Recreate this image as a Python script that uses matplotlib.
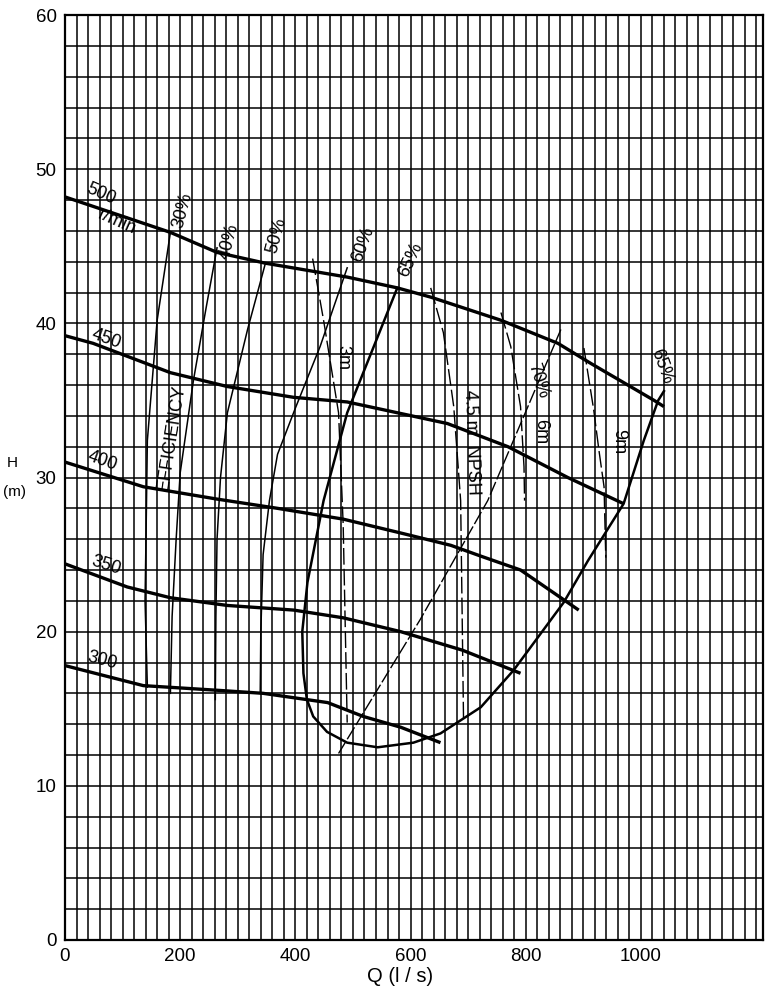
import matplotlib
matplotlib.use("Agg")
import matplotlib.pyplot as plt
import numpy as np

plt.rcParams['font.family'] = ['Liberation Sans', 'DejaVu Sans']

# ---- speed curves (H-Q), r/min ----
speed_labels = ["500", "450", "400", "350", "300"]
q_500 = [0, 183, 264, 348, 490, 577, 635, 757, 856, 913, 1023, 1040]
h_500 = [48.2, 45.9, 44.6, 43.9, 43.0, 42.3, 41.7, 40.2, 38.7, 37.4, 35.0, 34.6]
q_450 = [0, 49, 183, 282, 397, 490, 577, 664, 769, 873, 970]
h_450 = [39.2, 38.7, 36.8, 35.9, 35.2, 34.9, 34.2, 33.5, 32.0, 30.0, 28.3]
q_400 = [0, 136, 264, 369, 483, 583, 670, 722, 791, 861, 892]
h_400 = [31.0, 29.4, 28.6, 28.0, 27.3, 26.4, 25.6, 24.9, 24.0, 22.2, 21.4]
q_350 = [0, 108, 183, 282, 397, 483, 583, 690, 791]
h_350 = [24.4, 22.9, 22.2, 21.7, 21.4, 20.9, 20.0, 18.8, 17.3]
q_300 = [0, 136, 264, 344, 456, 518, 583, 652]
h_300 = [17.8, 16.5, 16.2, 16.0, 15.4, 14.5, 13.8, 12.8]

# ---- efficiency curves ----
q_e30 = [143, 139, 141, 143, 160, 183]
h_e30 = [16.4, 22.0, 27.0, 32.4, 40.2, 45.9]
q_e40 = [183, 186, 193, 200, 223, 245, 264]
h_e40 = [16.0, 21.0, 26.0, 30.3, 36.3, 41.0, 44.9]
q_e50 = [261, 262, 264, 270, 282, 317, 348]
h_e50 = [15.6, 21.0, 26.0, 30.0, 34.2, 39.6, 43.9]
q_e60 = [339, 340, 344, 355, 369, 400, 443, 490]
h_e60 = [16.0, 20.0, 25.0, 28.5, 31.5, 34.5, 38.5, 43.6]
q_e65 = [577, 490, 449, 421, 412, 414, 420, 431, 455, 490, 543, 605, 652, 722, 779, 866, 908, 970, 1005, 1030, 1040]
h_e65 = [42.3, 34.2, 28.5, 23.2, 20.0, 17.3, 15.6, 14.5, 13.5, 12.8, 12.5, 12.8, 13.4, 15.1, 17.5, 21.9, 24.6, 28.3, 32.4, 35.0, 35.6]
q_e70 = [475, 617, 734, 861]
h_e70 = [12.1, 20.8, 28.5, 39.6]

# ---- NPSH curves ----
q_n3 = [430, 449, 475, 483, 490]
h_n3 = [44.2, 40.2, 34.2, 27.0, 14.1]
q_n45 = [635, 657, 675, 687, 692]
h_n45 = [42.3, 39.4, 34.6, 28.5, 14.3]
q_n6 = [757, 774, 791, 797, 798]
h_n6 = [40.7, 38.5, 34.6, 30.7, 28.5]
q_n9 = [901, 918, 927, 936, 939]
h_n9 = [38.4, 34.4, 31.8, 29.4, 24.8]

x_ticks = [0, 200, 400, 600, 800, 1000]
y_ticks = [0, 10, 20, 30, 40, 50, 60]

fig = plt.figure(figsize=(7.81, 10.06), dpi=100)
ax = fig.add_axes([65/781, 1-940/1006, (763-65)/781, (940-15)/1006])
ax.set_xlim(0, 1212)
ax.set_ylim(0, 60)

for gx in np.arange(0, 1212, 20):
    ax.axvline(gx, color='black', lw=1.1, zorder=1)
for gy in np.arange(0, 61, 2):
    ax.axhline(gy, color='black', lw=1.1, zorder=1)

for q, h in [(q_500, h_500), (q_450, h_450), (q_400, h_400), (q_350, h_350), (q_300, h_300)]:
    ax.plot(q, h, color='black', lw=2.4, zorder=3, solid_capstyle='butt')

for q, h in [(q_e30, h_e30), (q_e40, h_e40), (q_e50, h_e50), (q_e60, h_e60)]:
    ax.plot(q, h, color='black', lw=1.1, zorder=2)
ax.plot(q_e65, h_e65, color='black', lw=1.8, zorder=3)
ax.plot(q_e70, h_e70, color='black', lw=1.0, zorder=2, dashes=(10, 2))

for q, h in [(q_n3, h_n3), (q_n45, h_n45), (q_n6, h_n6), (q_n9, h_n9)]:
    ax.plot(q, h, color='black', lw=1.0, zorder=2, dashes=(12, 3))

fs = 13
txt = dict(color='black', ha='center', va='center', zorder=4)
ax.text(63, 48.4, "500", rotation=-24, fontsize=fs, **txt)
ax.text(90, 46.6, "r/min", rotation=-24, fontsize=fs, **txt)
ax.text(72, 39.0, "450", rotation=-20, fontsize=fs, **txt)
ax.text(65, 31.1, "400", rotation=-20, fontsize=fs, **txt)
ax.text(72, 24.3, "350", rotation=-18, fontsize=fs, **txt)
ax.text(65, 18.1, "300", rotation=-15, fontsize=fs, **txt)

ax.text(205, 47.3, "30%", rotation=75, fontsize=fs, **txt)
ax.text(285, 45.3, "40%", rotation=75, fontsize=fs, **txt)
ax.text(367, 45.7, "50%", rotation=75, fontsize=fs, **txt)
ax.text(518, 45.1, "60%", rotation=70, fontsize=fs, **txt)
ax.text(600, 44.1, "65%", rotation=65, fontsize=fs, **txt)
ax.text(822, 36.3, "70%", rotation=-72, fontsize=fs, **txt)
ax.text(1036, 37.2, "65%", rotation=-70, fontsize=fs, **txt)
ax.text(184, 32.6, "EFFICIENCY", rotation=81, fontsize=fs, **txt)

ax.text(483, 37.8, "3m", rotation=-90, fontsize=fs, **txt)
ax.text(705, 32.3, "4.5 m  NPSH", rotation=-88, fontsize=fs, **txt)
ax.text(826, 33.0, "6m", rotation=-90, fontsize=fs, **txt)
ax.text(961, 32.3, "9m", rotation=-90, fontsize=fs, **txt)

ax.set_xticks(x_ticks)
ax.set_yticks(y_ticks)
ax.tick_params(length=0, labelsize=13.5, pad=6)
for s in ax.spines.values():
    s.set_linewidth(1.6)

fig.text(12/781, 1-463/1006, "H", fontsize=11, ha='center', va='center')
fig.text(15/781, 1-492/1006, "(m)", fontsize=11, ha='center', va='center')
fig.text(400/781, 1-977/1006, "Q (l / s)", fontsize=14.5, ha='center', va='center')

fig.savefig("out.png", dpi=100)
